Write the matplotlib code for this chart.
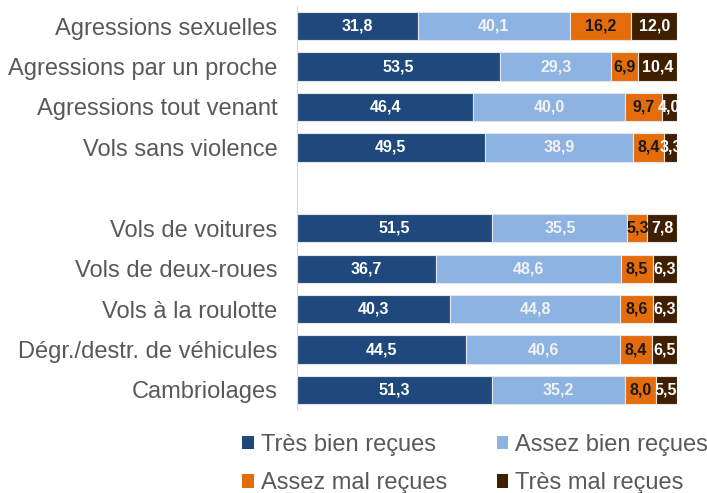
import numpy as np
import matplotlib.pyplot as plt
from matplotlib.patches import Patch

plt.rcParams['font.family'] = ['Liberation Sans', 'DejaVu Sans']

categories = ["Agressions sexuelles", "Agressions par un proche",
              "Agressions tout venant", "Vols sans violence",
              "Vols de voitures", "Vols de deux-roues", "Vols à la roulotte",
              "Dégr./destr. de véhicules", "Cambriolages"]
tres_bien = [31.8, 53.5, 46.4, 49.5, 51.5, 36.7, 40.3, 44.5, 51.3]
assez_bien = [40.1, 29.3, 40.0, 38.9, 35.5, 48.6, 44.8, 40.6, 35.2]
assez_mal = [16.2, 6.9, 9.7, 8.4, 5.3, 8.5, 8.6, 8.4, 8.0]
tres_mal = [12.0, 10.4, 4.0, 3.3, 7.8, 6.3, 6.3, 6.5, 5.5]

series = [
    ("Très bien reçues", tres_bien, "#1f497d", "white"),
    ("Assez bien reçues", assez_bien, "#8db3e2", "#f2f2f2"),
    ("Assez mal reçues", assez_mal, "#e46c0a", "#1a1a1a"),
    ("Très mal reçues", tres_mal, "#3f1f00", "white"),
]

# empty slot between the assault group and the theft group
ypos = np.array([0, 1, 2, 3, 5, 6, 7, 8, 9])

fig = plt.figure(figsize=(7.07, 4.93), dpi=100)
ax = fig.add_axes([0.42, 0.168, 0.5376, 0.82])

left = np.zeros(len(categories))
for name, vals, color, tcolor in series:
    vals = np.array(vals)
    ax.barh(ypos, vals, left=left, height=0.7, color=color,
            edgecolor="#e6e6e6", linewidth=0.8, label=name)
    for y, l, v in zip(ypos, left, vals):
        ax.text(l + v / 2, y, f"{v:.1f}".replace(".", ","), ha="center",
                va="center", color=tcolor, fontsize=11.5, fontweight="bold")
    left += vals

ax.set_ylim(9.5, -0.5)
ax.set_xlim(0, 100.1)
ax.set_yticks(ypos)
ax.set_yticklabels(categories, fontsize=17, color="#595959")
ax.tick_params(axis="y", length=0, pad=14)
ax.set_xticks([])
for s in ["top", "right", "bottom"]:
    ax.spines[s].set_visible(False)
ax.spines["left"].set_color("#d9d9d9")

# legend fills column-wise, so order handles to read row by row
handles = [Patch(facecolor=c, label=n) for n, _, c, _ in series]
handles = [handles[0], handles[2], handles[1], handles[3]]
fig.legend(handles=handles, loc="lower left", bbox_to_anchor=(0.312, -0.046),
           ncol=2, frameon=False, fontsize=17, handlelength=0.5,
           handleheight=0.5, handletextpad=0.3, columnspacing=2.1,
           labelcolor="#595959", labelspacing=0.7)

fig.savefig("out.png", dpi=100)
